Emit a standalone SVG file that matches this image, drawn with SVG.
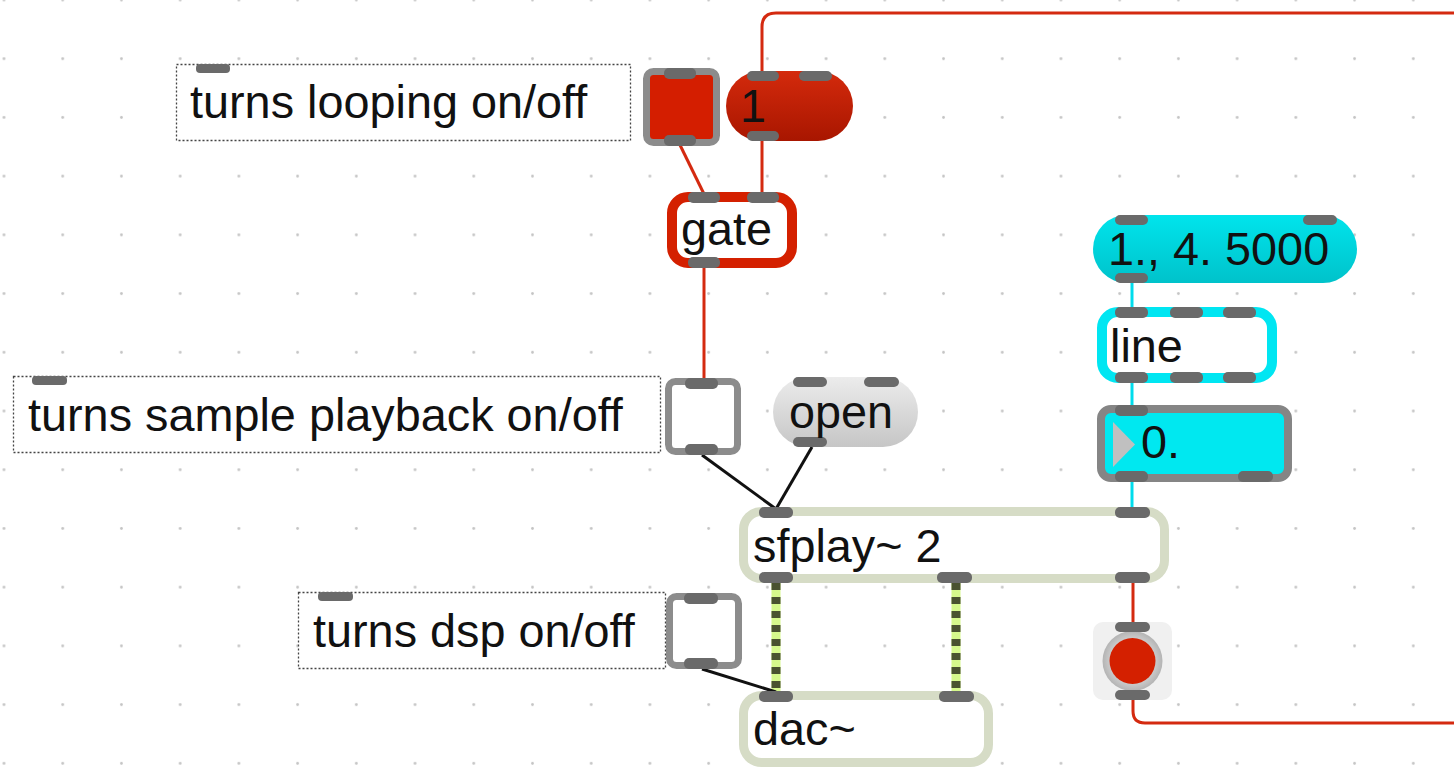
<svg xmlns="http://www.w3.org/2000/svg" width="1454" height="768" viewBox="0 0 1454 768">
<defs>
<pattern id="grid" patternUnits="userSpaceOnUse" x="-25.36" y="-29.36" width="58.72" height="58.72">
<circle cx="29.36" cy="29.36" r="1.4" fill="#c4c4c4"/>
</pattern>
<linearGradient id="gRed" x1="0" y1="0" x2="0" y2="1"><stop offset="0" stop-color="#d42a0c"/><stop offset="1" stop-color="#a81600"/></linearGradient>
<linearGradient id="gCyan" x1="0" y1="0" x2="0" y2="1"><stop offset="0" stop-color="#00e4ec"/><stop offset="1" stop-color="#00c2ca"/></linearGradient>
<linearGradient id="gGrey" x1="0" y1="0" x2="0" y2="1"><stop offset="0" stop-color="#ececec"/><stop offset="1" stop-color="#c6c6c6"/></linearGradient>
<radialGradient id="gRing" cx="0.5" cy="0.5" r="0.5"><stop offset="0.7" stop-color="#d0d0d0"/><stop offset="1" stop-color="#b4b4b4"/></radialGradient>
</defs>
<style>
.t{font-family:"Liberation Sans",Arial,sans-serif;font-size:46.8px;fill:#111;}
.tab{fill:#6a6a6a;}
.cm{fill:#fff;stroke:#444;stroke-width:1.3;stroke-dasharray:2 2;}
.tg{fill:#fff;stroke:#8c8c8c;stroke-width:7;}
.red{stroke:#d42a10;stroke-width:3;fill:none;}
.blk{stroke:#111;stroke-width:3;fill:none;}
.cy{stroke:#00dcec;stroke-width:3;fill:none;}
.sig1{stroke:#d6f88c;stroke-width:9;fill:none;}
.sig2{stroke:#4a5230;stroke-width:9;fill:none;stroke-dasharray:7 7;}
.obj{fill:#fff;stroke:#d6dcc6;stroke-width:9;}
</style>
<rect x="0" y="0" width="1454" height="768" fill="#fff"/>
<rect x="0" y="0" width="1454" height="768" fill="url(#grid)"/>

<g id="connectors">
<path class="red" d="M762,73 V27 Q762,13 776,13 H1454"/>
<path class="red" d="M762,141 V194"/>
<path class="red" d="M680,145 L704,194"/>
<path class="red" d="M704,268 V380"/>
<path class="blk" d="M702,455 L776,509"/>
<path class="blk" d="M812,447 L776,509"/>
<path class="cy" d="M1132,283 V309"/>
<path class="cy" d="M1132,383 V407"/>
<path class="cy" d="M1132,482 V509"/>
<path class="sig1" d="M776,583 V691"/>
<path class="sig2" d="M776,583 V691"/>
<path class="sig1" d="M956,583 V691"/>
<path class="sig2" d="M956,583 V691"/>
<path class="blk" d="M702,669 L776,692"/>
<path class="red" d="M1133,583 V624"/>
<path class="red" d="M1133,700 V711 Q1133,723 1145,723 H1454"/>
</g>

<g id="comment-looping">
<rect class="cm" x="176.5" y="64.5" width="454" height="76"/>
<rect class="tab" x="196" y="64" width="34" height="9" rx="4"/>
<text class="t" x="190" y="118">turns looping on/off</text>
</g>

<g id="toggle-looping">
<rect x="646.5" y="71.5" width="70" height="71" rx="7" fill="#d41e00" stroke="#8c8c8c" stroke-width="7"/>
<rect class="tab" x="664" y="68" width="32" height="11" rx="5"/>
<rect class="tab" x="664" y="135" width="32" height="11" rx="5"/>
</g>

<g id="msg-1">
<rect x="726" y="71" width="127" height="70" rx="35" fill="url(#gRed)"/>
<rect class="tab" x="747" y="71" width="32" height="10" rx="5"/>
<rect class="tab" x="799" y="71" width="33" height="10" rx="5"/>
<rect class="tab" x="747" y="131" width="32" height="10" rx="5"/>
<text class="t" x="740" y="122">1</text>
</g>

<g id="gate">
<rect x="672" y="197" width="120" height="66" rx="16" fill="#fff" stroke="#d42000" stroke-width="10"/>
<rect class="tab" x="688" y="192" width="32" height="11" rx="5"/>
<rect class="tab" x="747" y="192" width="32" height="11" rx="5"/>
<rect class="tab" x="688" y="257" width="32" height="11" rx="5"/>
<text class="t" x="681" y="245">gate</text>
</g>

<g id="comment-playback">
<rect class="cm" x="13.5" y="376.5" width="647" height="76"/>
<rect class="tab" x="32" y="376" width="35" height="9" rx="4"/>
<text class="t" x="28" y="431">turns sample playback on/off</text>
</g>

<g id="toggle-playback">
<rect class="tg" x="668.5" y="381.5" width="69" height="70" rx="7"/>
<rect class="tab" x="685" y="378" width="33" height="11" rx="5"/>
<rect class="tab" x="685" y="444" width="33" height="11" rx="5"/>
</g>

<g id="msg-open">
<rect x="773" y="377" width="145" height="70" rx="35" fill="url(#gGrey)"/>
<rect class="tab" x="793" y="377" width="34" height="10" rx="5"/>
<rect class="tab" x="864" y="377" width="35" height="10" rx="5"/>
<rect class="tab" x="793" y="437" width="34" height="10" rx="5"/>
<text class="t" x="789" y="428">open</text>
</g>

<g id="msg-ramp">
<rect x="1093" y="215" width="264" height="68" rx="34" fill="url(#gCyan)"/>
<rect class="tab" x="1115" y="215" width="33" height="10" rx="5"/>
<rect class="tab" x="1303" y="215" width="34" height="10" rx="5"/>
<rect class="tab" x="1115" y="273" width="33" height="10" rx="5"/>
<text class="t" x="1108" y="265">1., 4. 5000</text>
</g>

<g id="line">
<rect x="1102" y="312" width="170" height="66" rx="16" fill="#fff" stroke="#00e6f2" stroke-width="10"/>
<rect class="tab" x="1115" y="307" width="33" height="11" rx="5"/>
<rect class="tab" x="1170" y="307" width="33" height="11" rx="5"/>
<rect class="tab" x="1223" y="307" width="33" height="11" rx="5"/>
<rect class="tab" x="1115" y="372" width="33" height="11" rx="5"/>
<rect class="tab" x="1170" y="372" width="33" height="11" rx="5"/>
<rect class="tab" x="1223" y="372" width="33" height="11" rx="5"/>
<text class="t" x="1110" y="362">line</text>
</g>

<g id="number">
<rect x="1101" y="409" width="187" height="69" rx="10" fill="#00e8f0" stroke="#858585" stroke-width="8"/>
<polygon points="1113,422 1135,444.5 1113,467" fill="#c0c0c0"/>
<rect class="tab" x="1115" y="405" width="33" height="11" rx="5"/>
<rect class="tab" x="1115" y="471" width="33" height="11" rx="5"/>
<rect class="tab" x="1238" y="471" width="35" height="11" rx="5"/>
<text class="t" x="1141" y="458">0.</text>
</g>

<g id="sfplay">
<rect class="obj" x="743.5" y="511.5" width="421" height="67" rx="18"/>
<rect class="tab" x="759" y="507" width="34" height="11" rx="5"/>
<rect class="tab" x="1115" y="507" width="35" height="11" rx="5"/>
<rect class="tab" x="759" y="572" width="34" height="11" rx="5"/>
<rect class="tab" x="937" y="572" width="35" height="11" rx="5"/>
<rect class="tab" x="1115" y="572" width="35" height="11" rx="5"/>
<text class="t" x="753" y="562">sfplay~ 2</text>
</g>

<g id="comment-dsp">
<rect class="cm" x="298.5" y="592.5" width="367" height="76"/>
<rect class="tab" x="318" y="592" width="35" height="9" rx="4"/>
<text class="t" x="313" y="647">turns dsp on/off</text>
</g>

<g id="toggle-dsp">
<rect class="tg" x="669.5" y="596.5" width="69" height="69" rx="7"/>
<rect class="tab" x="684" y="593" width="34" height="11" rx="5"/>
<rect class="tab" x="684" y="658" width="34" height="11" rx="5"/>
</g>

<g id="button">
<rect x="1093" y="622" width="79" height="78" rx="10" fill="#f0f0f0"/>
<circle cx="1132.5" cy="661" r="30" fill="url(#gRing)"/>
<circle cx="1132.5" cy="661" r="23" fill="#d42000"/>
<rect class="tab" x="1115" y="622" width="35" height="10" rx="5"/>
<rect class="tab" x="1115" y="690" width="35" height="10" rx="5"/>
</g>

<g id="dac">
<rect class="obj" x="743.5" y="695.5" width="245" height="67" rx="18"/>
<rect class="tab" x="759" y="691" width="34" height="11" rx="5"/>
<rect class="tab" x="939" y="691" width="35" height="11" rx="5"/>
<text class="t" x="753" y="745">dac~</text>
</g>
</svg>
